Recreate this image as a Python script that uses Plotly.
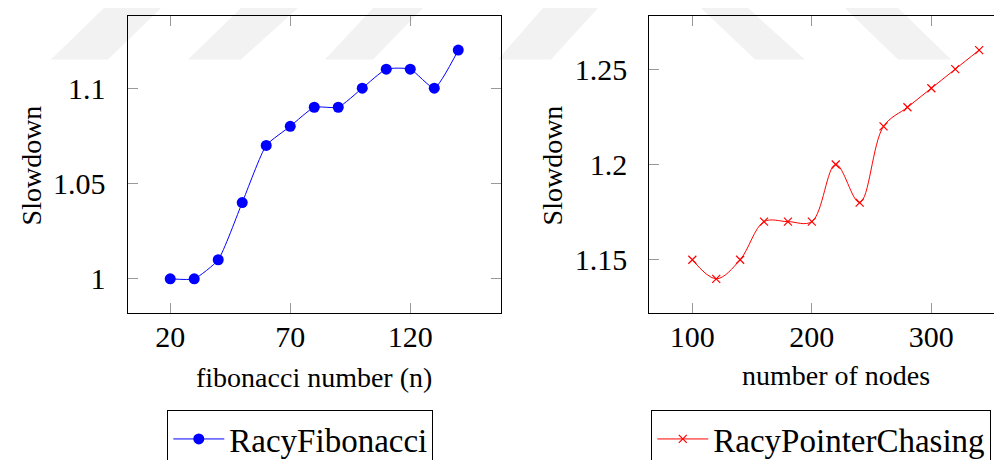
import plotly.graph_objects as go

# ---------------- data ----------------
fib_n = [20, 30, 40, 50, 60, 70, 80, 90, 100, 110, 120, 130, 140]
fib_slowdown = [1.00, 1.00, 1.01, 1.04, 1.07, 1.08, 1.09, 1.09, 1.10, 1.11, 1.11, 1.10, 1.12]

nodes = [100, 120, 140, 160, 180, 200, 220, 240, 260, 280, 300, 320, 340]
pc_slowdown = [1.15, 1.14, 1.15, 1.17, 1.17, 1.17, 1.20, 1.18, 1.22, 1.23, 1.24, 1.25, 1.26]

fib_xticks = [20, 70, 120]
fib_yticks = [1.0, 1.05, 1.1]
fib_yticklabels = ["1", "1.05", "1.1"]
pc_xticks = [100, 200, 300]
pc_yticks = [1.15, 1.2, 1.25]
pc_yticklabels = ["1.15", "1.2", "1.25"]

# ---------------- layout helpers ----------------
W, H = 1002, 460
FONT = "Liberation Serif"

def px_x(x):
    return x / W

def px_y(y):
    return 1 - y / H

fig = go.Figure()

fig.add_trace(go.Scatter(
    x=fib_n, y=fib_slowdown, mode="lines+markers", name="RacyFibonacci",
    line=dict(color="#0000ff", width=1, shape="spline", smoothing=0.5),
    marker=dict(symbol="circle", size=11, color="#0000ff"),
    xaxis="x", yaxis="y", legend="legend",
))
fig.add_trace(go.Scatter(
    x=nodes, y=pc_slowdown, mode="lines+markers", name="RacyPointerChasing",
    line=dict(color="#ff0000", width=1, shape="spline", smoothing=1.0),
    marker=dict(symbol="x-thin-open", size=8, color="#ff0000",
                line=dict(color="#ff0000", width=1.2)),
    xaxis="x2", yaxis="y2", legend="legend2",
))

axis_common = dict(
    showgrid=False, zeroline=False, showline=True, linecolor="black", linewidth=1,
    ticks="inside", ticklen=10, tickwidth=1, tickcolor="#999999",
    tickfont=dict(family=FONT, size=30, color="black"),
)

ydom = [px_y(314), px_y(8)]

fig.update_layout(
    width=W, height=H,
    margin=dict(l=0, r=0, t=0, b=0),
    paper_bgcolor="white", plot_bgcolor="rgba(0,0,0,0)",
    font=dict(family=FONT, color="black"),
    xaxis=dict(axis_common, domain=[px_x(119.5), px_x(493)], range=[2.2, 157.8],
               tickvals=fib_xticks, mirror="allticks", anchor="y",
               ticklabelstandoff=-3),
    yaxis=dict(axis_common, domain=ydom, range=[0.982, 1.138],
               tickvals=fib_yticks, ticktext=fib_yticklabels, mirror="allticks",
               anchor="x", ticklabelstandoff=15),
    xaxis2=dict(axis_common, domain=[px_x(641.3), 1.0], range=[64, 365.8],
                tickvals=pc_xticks, mirror="allticks", anchor="y2",
                ticklabelstandoff=-3),
    yaxis2=dict(axis_common, domain=ydom, range=[1.122, 1.278],
                tickvals=pc_yticks, ticktext=pc_yticklabels, mirror=False,
                anchor="x2", ticklabelstandoff=15),
    legend=dict(x=px_x(159.3), y=px_y(414), xanchor="left", yanchor="top",
                bordercolor="black", borderwidth=1, bgcolor="white",
                font=dict(family=FONT, size=33, color="black"), itemwidth=51),
    legend2=dict(x=px_x(643.3), y=px_y(414), xanchor="left", yanchor="top",
                 bordercolor="black", borderwidth=1, bgcolor="white",
                 font=dict(family=FONT, size=33, color="black"), itemwidth=51),
    showlegend=True,
)

# axis titles
title_font = dict(family=FONT, size=28, color="black")
fig.add_annotation(text="fibonacci number (n)", x=px_x(306), y=px_y(380),
                   xref="paper", yref="paper", showarrow=False, font=title_font,
                   xanchor="center", yanchor="middle")
fig.add_annotation(text="number of nodes", x=px_x(827.5), y=px_y(378),
                   xref="paper", yref="paper", showarrow=False, font=title_font,
                   xanchor="center", yanchor="middle")
fig.add_annotation(text="Slowdown", x=px_x(23), y=px_y(162), textangle=-90,
                   xref="paper", yref="paper", showarrow=False, font=title_font,
                   xanchor="center", yanchor="middle")
fig.add_annotation(text="Slowdown", x=px_x(544), y=px_y(162), textangle=-90,
                   xref="paper", yref="paper", showarrow=False, font=title_font,
                   xanchor="center", yanchor="middle")

# faint background watermark stripes
stripes = [
    # (top-left x, top-right x, bottom-right x, bottom-left x)
    (96, 153, 100, 43),
    (233, 290, 233, 180),
    (365, 415, 365, 317),
    (535, 590, 543, 490),
    (693, 740, 797, 747),
    (837, 890, 943, 890),
]
for tl, tr, br, bl in stripes:
    path = (f"M {px_x(tl)},{px_y(0)} L {px_x(tr)},{px_y(0)} "
            f"L {px_x(br)},{px_y(53)} L {px_x(bl)},{px_y(53)} Z")
    fig.add_shape(type="path", path=path, xref="paper", yref="paper",
                  fillcolor="#f2f2f2", line=dict(width=0), layer="below")

fig.write_html("out.html")
